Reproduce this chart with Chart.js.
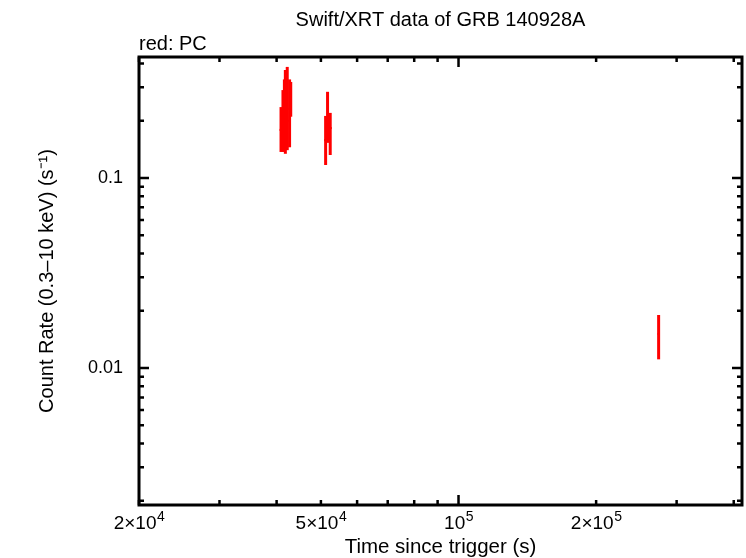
<!DOCTYPE html>
<html lang="en">
<head>
  <meta charset="UTF-8">
  <title>Swift/XRT data of GRB 140928A</title>
  <script src="https://cdn.jsdelivr.net/npm/chart.js"></script>
  <style>
    body { margin: 0; background: #fff; }
  </style>
</head>
<body>
<canvas id="myChart" width="746" height="558"></canvas>
<script>
  // PC mode points
  const time    = [40900, 41300, 41600, 41800, 42200, 42700, 42950, 51200, 51700, 52400, 274000];
  const timeErr = [300, 300, 300, 300, 300, 300, 250, 400, 400, 400, 1500];
  const rate    = [0.179, 0.2, 0.21, 0.22, 0.23, 0.2, 0.25, 0.158, 0.2, 0.183, 0.0151];
  const rateLo  = [0.137, 0.137, 0.14, 0.134, 0.14, 0.145, 0.21, 0.117, 0.153, 0.132, 0.0111];
  const rateHi  = [0.236, 0.29, 0.33, 0.37, 0.384, 0.33, 0.32, 0.212, 0.284, 0.22, 0.019];

  const xTicks = [2e4, 3e4, 4e4, 5e4, 6e4, 7e4, 8e4, 9e4, 1e5, 2e5, 3e5, 4e5];
  // [mantissa, exponent] for labelled x ticks
  const xLabels = { 2e4: ['2×10', '4'], 5e4: ['5×10', '4'], 1e5: ['10', '5'], 2e5: ['2×10', '5'] };
  const yTicks = [0.002, 0.003, 0.004, 0.005, 0.006, 0.007, 0.008, 0.009,
                  0.01, 0.02, 0.03, 0.04, 0.05, 0.06, 0.07, 0.08, 0.09,
                  0.1, 0.2, 0.3, 0.4];
  const yLabels = { 0.01: '0.01', 0.1: '0.1' };

  const red = '#ff0000';
  const font = 'Liberation Sans, Arial, sans-serif';

  const datasets = [];
  time.forEach((t, i) => {
    datasets.push({
      data: [{ x: t, y: rateLo[i] }, { x: t, y: rateHi[i] }],
      borderColor: red, borderWidth: 3, showLine: true, pointRadius: 0
    });
    datasets.push({
      data: [{ x: t - timeErr[i], y: rate[i] }, { x: t + timeErr[i], y: rate[i] }],
      borderColor: red, borderWidth: 2, showLine: true, pointRadius: 0
    });
  });

  function isMajor(v) {
    const l = Math.log10(v);
    return Math.abs(l - Math.round(l)) < 1e-6;
  }

  const framePlugin = {
    id: 'frame',
    afterDraw(chart) {
      const ctx = chart.ctx;
      const a = chart.chartArea;
      const xs = chart.scales.x, ys = chart.scales.y;
      ctx.save();
      ctx.strokeStyle = '#000';
      ctx.lineWidth = 3;
      ctx.strokeRect(a.left, a.top, a.right - a.left, a.bottom - a.top);

      ctx.lineWidth = 2.5;
      ctx.beginPath();
      xTicks.forEach(v => {
        const px = xs.getPixelForValue(v);
        const len = isMajor(v) ? 10 : 5;
        ctx.moveTo(px, a.bottom); ctx.lineTo(px, a.bottom - len);
        ctx.moveTo(px, a.top); ctx.lineTo(px, a.top + len);
      });
      yTicks.forEach(v => {
        const py = ys.getPixelForValue(v);
        const len = isMajor(v) ? 10 : 5;
        ctx.moveTo(a.left, py); ctx.lineTo(a.left + len, py);
        ctx.moveTo(a.right, py); ctx.lineTo(a.right - len, py);
      });
      ctx.stroke();

      // x tick labels with raised exponents
      ctx.fillStyle = '#000';
      ctx.textBaseline = 'alphabetic';
      ctx.textAlign = 'left';
      xTicks.forEach(v => {
        const lab = xLabels[v];
        if (!lab) return;
        ctx.font = '19px ' + font;
        const w1 = ctx.measureText(lab[0]).width;
        ctx.font = '14px ' + font;
        const w2 = ctx.measureText(lab[1]).width;
        const x0 = xs.getPixelForValue(v) - (w1 + w2) / 2;
        ctx.font = '19px ' + font;
        ctx.fillText(lab[0], x0, 529);
        ctx.font = '14px ' + font;
        ctx.fillText(lab[1], x0 + w1 + 0.5, 521);
      });

      ctx.font = '20px ' + font;
      ctx.textAlign = 'center';
      ctx.fillText('Swift/XRT data of GRB 140928A', (a.left + a.right) / 2, 26);
      ctx.font = '20.5px ' + font;
      ctx.fillText('Time since trigger (s)', (a.left + a.right) / 2, 553);
      ctx.font = '20px ' + font;
      ctx.textAlign = 'left';
      ctx.fillText('red: PC', a.left, 50);

      ctx.translate(53, (a.top + a.bottom) / 2);
      ctx.rotate(-Math.PI / 2);
      ctx.textAlign = 'center';
      ctx.fillText('Count Rate (0.3\u201310 keV) (s\u207B\u00B9)', 0, 0);
      ctx.restore();
    }
  };

  const ctx = document.getElementById('myChart').getContext('2d');
  new Chart(ctx, {
    type: 'scatter',
    data: { datasets: datasets },
    options: {
      responsive: false,
      animation: false,
      layout: { padding: { left: 0, right: 4, top: 57, bottom: 0 } },
      plugins: { legend: { display: false }, tooltip: { enabled: false } },
      scales: {
        x: {
          type: 'logarithmic',
          min: 2e4,
          max: 4.17e5,
          grid: { display: false, drawTicks: false },
          border: { display: false },
          afterBuildTicks: s => { s.ticks = xTicks.map(v => ({ value: v })); },
          afterFit: s => { s.height = 53; },
          ticks: { display: false }
        },
        y: {
          type: 'logarithmic',
          min: 0.0019,
          max: 0.433,
          grid: { display: false, drawTicks: false },
          border: { display: false },
          afterBuildTicks: s => { s.ticks = yTicks.map(v => ({ value: v })); },
          afterFit: s => { s.width = 139; },
          ticks: {
            autoSkip: false,
            padding: 16,
            color: '#000',
            font: { family: font, size: 18 },
            callback: v => {
              for (const k in yLabels) {
                if (Math.abs(v - Number(k)) < 1e-9) return yLabels[k];
              }
              return '';
            }
          }
        }
      }
    },
    plugins: [framePlugin]
  });
</script>
</body>
</html>
